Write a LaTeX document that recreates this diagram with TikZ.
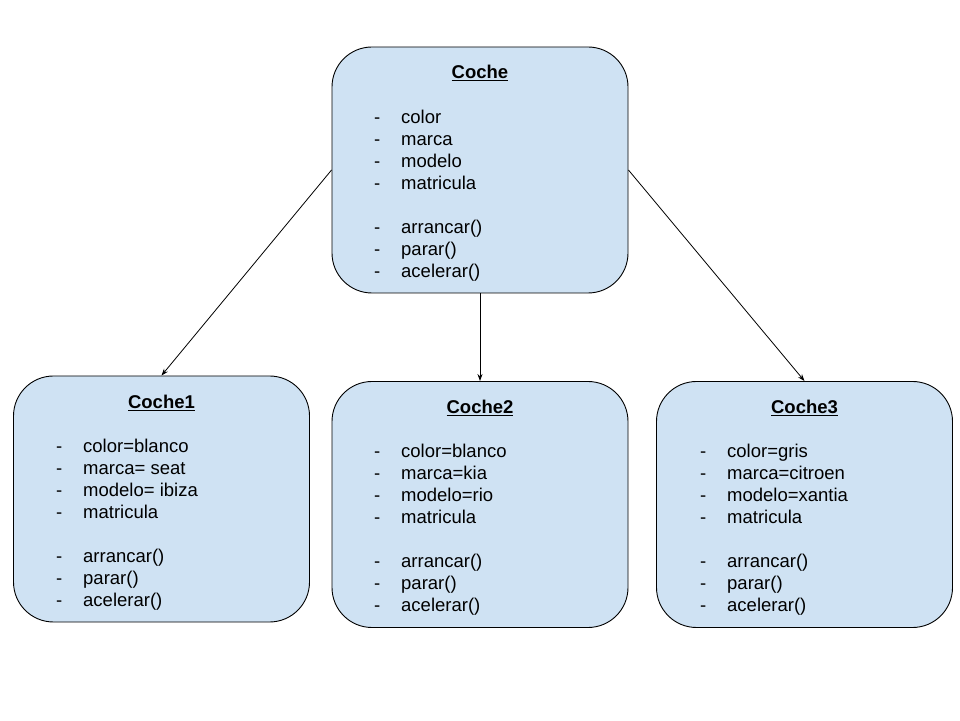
\documentclass[tikz,border=0pt]{standalone}
\usepackage{fontspec}
\setmainfont{Liberation Sans}
\usetikzlibrary{arrows.meta}
\definecolor{boxfill}{HTML}{CFE2F3}
\newcommand{\itm}[1]{\makebox[27pt][l]{-}#1}
\tikzset{
  classbox/.style={draw=black, line width=0.9pt, fill=boxfill, rounded corners=40pt, minimum width=296pt, minimum height=246pt, inner sep=0pt},
  boxtitle/.style={font=\fontsize{18.5pt}{22pt}\selectfont\bfseries, inner sep=0pt},
  boxlist/.style={font=\fontsize{18.5pt}{22pt}\selectfont, align=left, anchor=north west, inner sep=0pt},
  conn/.style={draw=black, line width=0.8pt, -{Stealth[length=7pt,width=5pt]}}
}
\begin{document}
\begin{tikzpicture}[x=1pt,y=1pt]
\useasboundingbox (0,0) rectangle (960,720);
% boxes
\node[classbox] (coche)  at (480,550) {};
\node[classbox] (coche1) at (161.5,221) {};
\node[classbox] (coche2) at (480,215.5) {};
\node[classbox] (coche3) at (804.5,215.5) {};
% titles
\node[boxtitle] (t0) at (480,647) {\underline{Coche}};
\node[boxtitle] (t1) at (161.5,317) {\underline{Coche1}};
\node[boxtitle] (t2) at (480,312) {\underline{Coche2}};
\node[boxtitle] (t3) at (804.5,312) {\underline{Coche3}};
% lists
\node[boxlist] (l0) at (374,610) {\itm{color}\\\itm{marca}\\\itm{modelo}\\\itm{matricula}\\[22pt]\itm{arrancar()}\\\itm{parar()}\\\itm{acelerar()}};
\node[boxlist] (l1) at (56,281) {\itm{color=blanco}\\\itm{marca= seat}\\\itm{modelo= ibiza}\\\itm{matricula}\\[22pt]\itm{arrancar()}\\\itm{parar()}\\\itm{acelerar()}};
\node[boxlist] (l2) at (374,276) {\itm{color=blanco}\\\itm{marca=kia}\\\itm{modelo=rio}\\\itm{matricula}\\[22pt]\itm{arrancar()}\\\itm{parar()}\\\itm{acelerar()}};
\node[boxlist] (l3) at (700,276) {\itm{color=gris}\\\itm{marca=citroen}\\\itm{modelo=xantia}\\\itm{matricula}\\[22pt]\itm{arrancar()}\\\itm{parar()}\\\itm{acelerar()}};
% connectors
\draw[conn] (coche.west) -- (coche1.north);
\draw[conn] (coche.south) -- (coche2.north);
\draw[conn] (coche.east) -- (coche3.north);
\end{tikzpicture}
\end{document}
